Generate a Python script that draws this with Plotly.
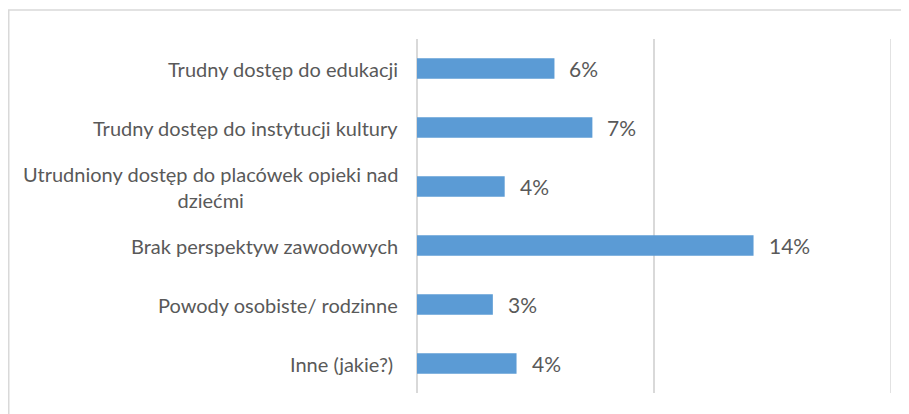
import plotly.graph_objects as go

categories = [
    "Trudny dostęp do edukacji",
    "Trudny dostęp do instytucji kultury",
    "Utrudniony dostęp do placówek opieki nad<br>dziećmi",
    "Brak perspektyw zawodowych",
    "Powody osobiste/ rodzinne",
    "Inne (jakie?)\u00a0",
]
values = [5.8, 7.4, 3.7, 14.2, 3.2, 4.2]
value_labels = [f"{round(v)}%" for v in values]
x_ticks = [0, 10, 20]

FONT = "Lato"
GRAY = "#595959"
GRID = "#d9d9d9"

# page body has an 8px default margin; figure sized to fit the window
W, H = 901, 406
ML, MR, MT, MB = 409, 18, 31, 21
PW = W - ML - MR
PH = H - MT - MB

fig = go.Figure()
fig.add_trace(go.Bar(
    y=categories, x=values, orientation="h",
    width=0.35,
    marker=dict(color="#5b9bd5", line=dict(width=0)),
    hoverinfo="skip",
))

# category labels (center-aligned multi-line, right-anchored at axis)
for c in categories:
    fig.add_annotation(
        x=0, xref="x", y=c, yref="y", text=c, showarrow=False,
        xanchor="right", yanchor="middle", align="center", xshift=-17,
        font=dict(family=FONT, size=20, color=GRAY),
    )

# value labels
for c, v, t in zip(categories, values, value_labels):
    fig.add_annotation(
        x=v, xref="x", y=c, yref="y", text=t, showarrow=False,
        xanchor="left", yanchor="middle", xshift=13,
        font=dict(family=FONT, size=21, color=GRAY),
    )

# gridline at the range end (Plotly omits it at the edge)
fig.add_shape(type="line", xref="x", yref="paper",
              x0=x_ticks[-1], x1=x_ticks[-1], y0=0, y1=1,
              line=dict(color=GRID, width=1.5), layer="below")

# chart border (top & left visible)
fig.add_shape(type="rect", xref="paper", yref="paper",
              x0=(0.75 - ML) / PW, x1=1.2, y0=-0.2, y1=1 + (MT - 2) / PH,
              line=dict(color=GRID, width=1.5), layer="below")

fig.update_layout(
    width=W, height=H,
    margin=dict(l=ML, r=MR, t=MT, b=MB),
    paper_bgcolor="white", plot_bgcolor="white",
    showlegend=False,
    xaxis=dict(range=[0, 20], tickvals=x_ticks, showticklabels=False,
               showgrid=True, gridcolor=GRID, gridwidth=1.5,
               zeroline=True, zerolinecolor=GRID, zerolinewidth=1.5,
               showline=False, fixedrange=True),
    yaxis=dict(categoryorder="array", categoryarray=categories,
               autorange="reversed", showticklabels=False,
               showgrid=False, zeroline=False, showline=False),
)

fig.write_html("out.html")
